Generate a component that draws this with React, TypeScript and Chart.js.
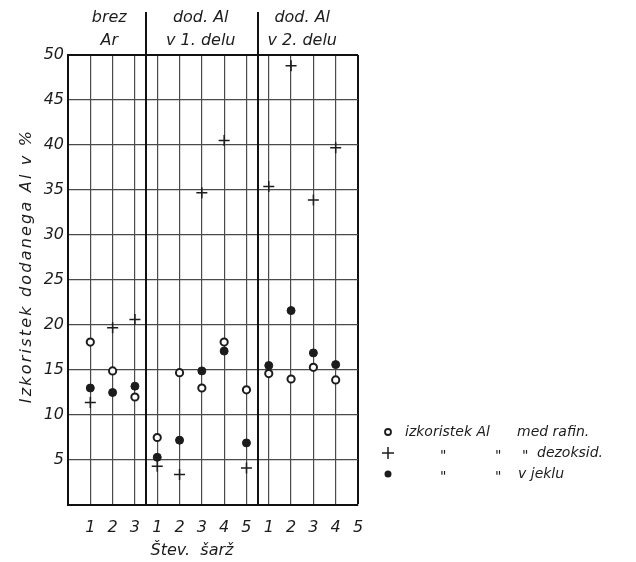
import React, { useEffect, useRef } from 'react';
import { Chart, registerables } from 'chart.js';

Chart.register(...registerables);

// ---- data ----
const batchPositions = [1, 2, 3, 4, 5, 6, 7, 8, 9, 10, 11, 12];
const xTickLabels = ['1', '2', '3', '1', '2', '3', '4', '5', '1', '2', '3', '4', '5'];
const groupHeaders = [
  ['brez', 'Ar'],
  ['dod. Al', 'v 1. delu'],
  ['dod. Al', 'v 2. delu'],
];
const headerCenters = [1.85, 5.95, 10.5];
const groupBounds = [0, 3.5, 8.5, 13];
const yieldRefining = [18.1, 14.9, 12.0, 7.5, 14.7, 13.0, 18.1, 12.8, 14.6, 14.0, 15.3, 13.9];
const yieldDeoxidation = [11.4, 19.7, 20.6, 4.3, 3.4, 34.7, 40.5, 4.1, 35.4, 48.8, 33.9, 39.7];
const yieldSteel = [13.0, 12.5, 13.2, 5.3, 7.2, 14.9, 17.1, 6.9, 15.5, 21.6, 16.9, 15.6];
const yAxisTitle = 'Izkoristek dodanega Al v %';
const xAxisTitle = 'Štev.  šarž';
const legendRows = [
  ['izkoristek Al', 'med rafin.'],
  ['"', '"', '"', 'dezoksid.'],
  ['"', '"', 'v jeklu'],
];

const FONT = "'DejaVu Sans', sans-serif";
const INK = '#1c1c1c';

const toPoints = (ys: number[]) => batchPositions.map((x, i) => ({ x, y: ys[i] }));

const overlayPlugin = {
  id: 'overlay',
  beforeDatasetsDraw(chart: any) {
    const { ctx, chartArea, scales } = chart;
    const xs = scales.x;
    ctx.save();
    ctx.strokeStyle = '#111';
    ctx.lineWidth = 2;
    [groupBounds[1], groupBounds[2]].forEach((v) => {
      const px = Math.round(xs.getPixelForValue(v));
      ctx.beginPath();
      ctx.moveTo(px, 12);
      ctx.lineTo(px, chartArea.bottom);
      ctx.stroke();
    });
    ctx.restore();
  },
  afterDraw(chart: any) {
    const { ctx, scales } = chart;
    const xs = scales.x;
    ctx.save();
    ctx.fillStyle = INK;
    // group headers
    ctx.font = `italic 16px ${FONT}`;
    ctx.textAlign = 'center';
    ctx.textBaseline = 'middle';
    groupHeaders.forEach((lines, i) => {
      const cx = xs.getPixelForValue(headerCenters[i]);
      ctx.fillText(lines[0], cx, 18);
      ctx.fillText(lines[1], cx, 41);
    });
    // y axis title
    ctx.save();
    ctx.translate(27, 266);
    ctx.rotate(-Math.PI / 2);
    ctx.font = `italic 16px ${FONT}`;
    (ctx as any).letterSpacing = '2.2px';
    ctx.fillText(yAxisTitle, 0, 0);
    ctx.restore();
    // x axis title
    ctx.font = `italic 16px ${FONT}`;
    ctx.textAlign = 'center';
    ctx.fillText(xAxisTitle, 192, 551);
    // legend
    ctx.font = `italic 14px ${FONT}`;
    ctx.textAlign = 'left';
    const rowsY = [432, 453, 474];
    ctx.strokeStyle = INK;
    ctx.lineWidth = 1.8;
    ctx.beginPath();
    ctx.arc(388, rowsY[0], 3, 0, Math.PI * 2);
    ctx.stroke();
    ctx.lineWidth = 1.5;
    ctx.beginPath();
    ctx.moveTo(382, rowsY[1]);
    ctx.lineTo(394, rowsY[1]);
    ctx.moveTo(388, rowsY[1] - 6);
    ctx.lineTo(388, rowsY[1] + 6);
    ctx.stroke();
    ctx.beginPath();
    ctx.arc(388, rowsY[2], 3.5, 0, Math.PI * 2);
    ctx.fill();
    const rowX = [
      [405, 517],
      [440, 495, 522, 537],
      [440, 495, 518],
    ];
    legendRows.forEach((row, r) => {
      row.forEach((t, j) => {
        ctx.fillText(t, rowX[r][j], rowsY[r] + (t === '"' ? 3 : 0));
      });
    });
    ctx.restore();
  },
};

export default function App() {
  const ref = useRef<HTMLCanvasElement | null>(null);
  useEffect(() => {
    if (!ref.current) return;
    const chart = new Chart(ref.current, {
      type: 'scatter',
      data: {
        datasets: [
          {
            label: 'izkoristek Al med rafin.',
            data: toPoints(yieldRefining),
            pointStyle: 'circle',
            pointRadius: 3.6,
            pointBackgroundColor: '#ffffff',
            pointBorderColor: INK,
            pointBorderWidth: 2,
          },
          {
            label: 'izkoristek Al med dezoksid.',
            data: toPoints(yieldDeoxidation),
            pointStyle: 'cross',
            pointRadius: 5.5,
            pointBorderColor: INK,
            pointBorderWidth: 1.5,
          },
          {
            label: 'izkoristek Al v jeklu',
            data: toPoints(yieldSteel),
            pointStyle: 'circle',
            pointRadius: 4,
            pointBackgroundColor: INK,
            pointBorderColor: INK,
            pointBorderWidth: 1,
          },
        ],
      },
      options: {
        responsive: false,
        animation: false,
        devicePixelRatio: 1,
        layout: { padding: { top: 55, right: 278, left: 0, bottom: 0 } },
        plugins: { legend: { display: false }, tooltip: { enabled: false } },
        scales: {
          x: {
            type: 'linear',
            min: 0,
            max: 13,
            afterFit: (s: any) => {
              s.height = 57;
            },
            afterBuildTicks: (s: any) => {
              const vals = [0, ...batchPositions, 13, groupBounds[1], groupBounds[2]].sort((a, b) => a - b);
              s.ticks = vals.map((v) => ({ value: v }));
            },
            grid: {
              drawTicks: false,
              color: (c: any) => {
                const v = c.tick && c.tick.value;
                if (v === groupBounds[1] || v === groupBounds[2]) return 'rgba(0,0,0,0)';
                return v === 13 ? '#111' : '#4a4a4a';
              },
              lineWidth: (c: any) => (c.tick && c.tick.value === 13 ? 2 : 1.2),
            },
            border: { display: true, color: '#111', width: 2 },
            ticks: {
              autoSkip: false,
              maxRotation: 0,
              padding: 13,
              color: INK,
              font: { family: FONT, size: 16, style: 'italic' },
              callback: (v: any) => {
                const n = Number(v);
                return Number.isInteger(n) && n >= 1 ? xTickLabels[n - 1] : '';
              },
            },
          },
          y: {
            type: 'linear',
            min: 0,
            max: 50,
            afterFit: (s: any) => {
              s.width = 68;
            },
            grid: {
              drawTicks: false,
              color: (c: any) => (c.tick && c.tick.value === 50 ? '#111' : '#4a4a4a'),
              lineWidth: (c: any) => (c.tick && c.tick.value === 50 ? 2 : 1.2),
            },
            border: { display: true, color: '#111', width: 2 },
            ticks: {
              stepSize: 5,
              padding: 4,
              color: INK,
              font: { family: FONT, size: 16, style: 'italic' },
              callback: (v: any) => (Number(v) === 0 ? '' : String(v)),
            },
          },
        },
      },
      plugins: [overlayPlugin],
    } as any);
    return () => chart.destroy();
  }, []);
  return (
    <div style={{ position: 'fixed', left: 0, top: 0, width: 636, height: 562, background: '#fff' }}>
      <canvas ref={ref} width={636} height={562} style={{ width: 636, height: 562, display: 'block' }} />
    </div>
  );
}
